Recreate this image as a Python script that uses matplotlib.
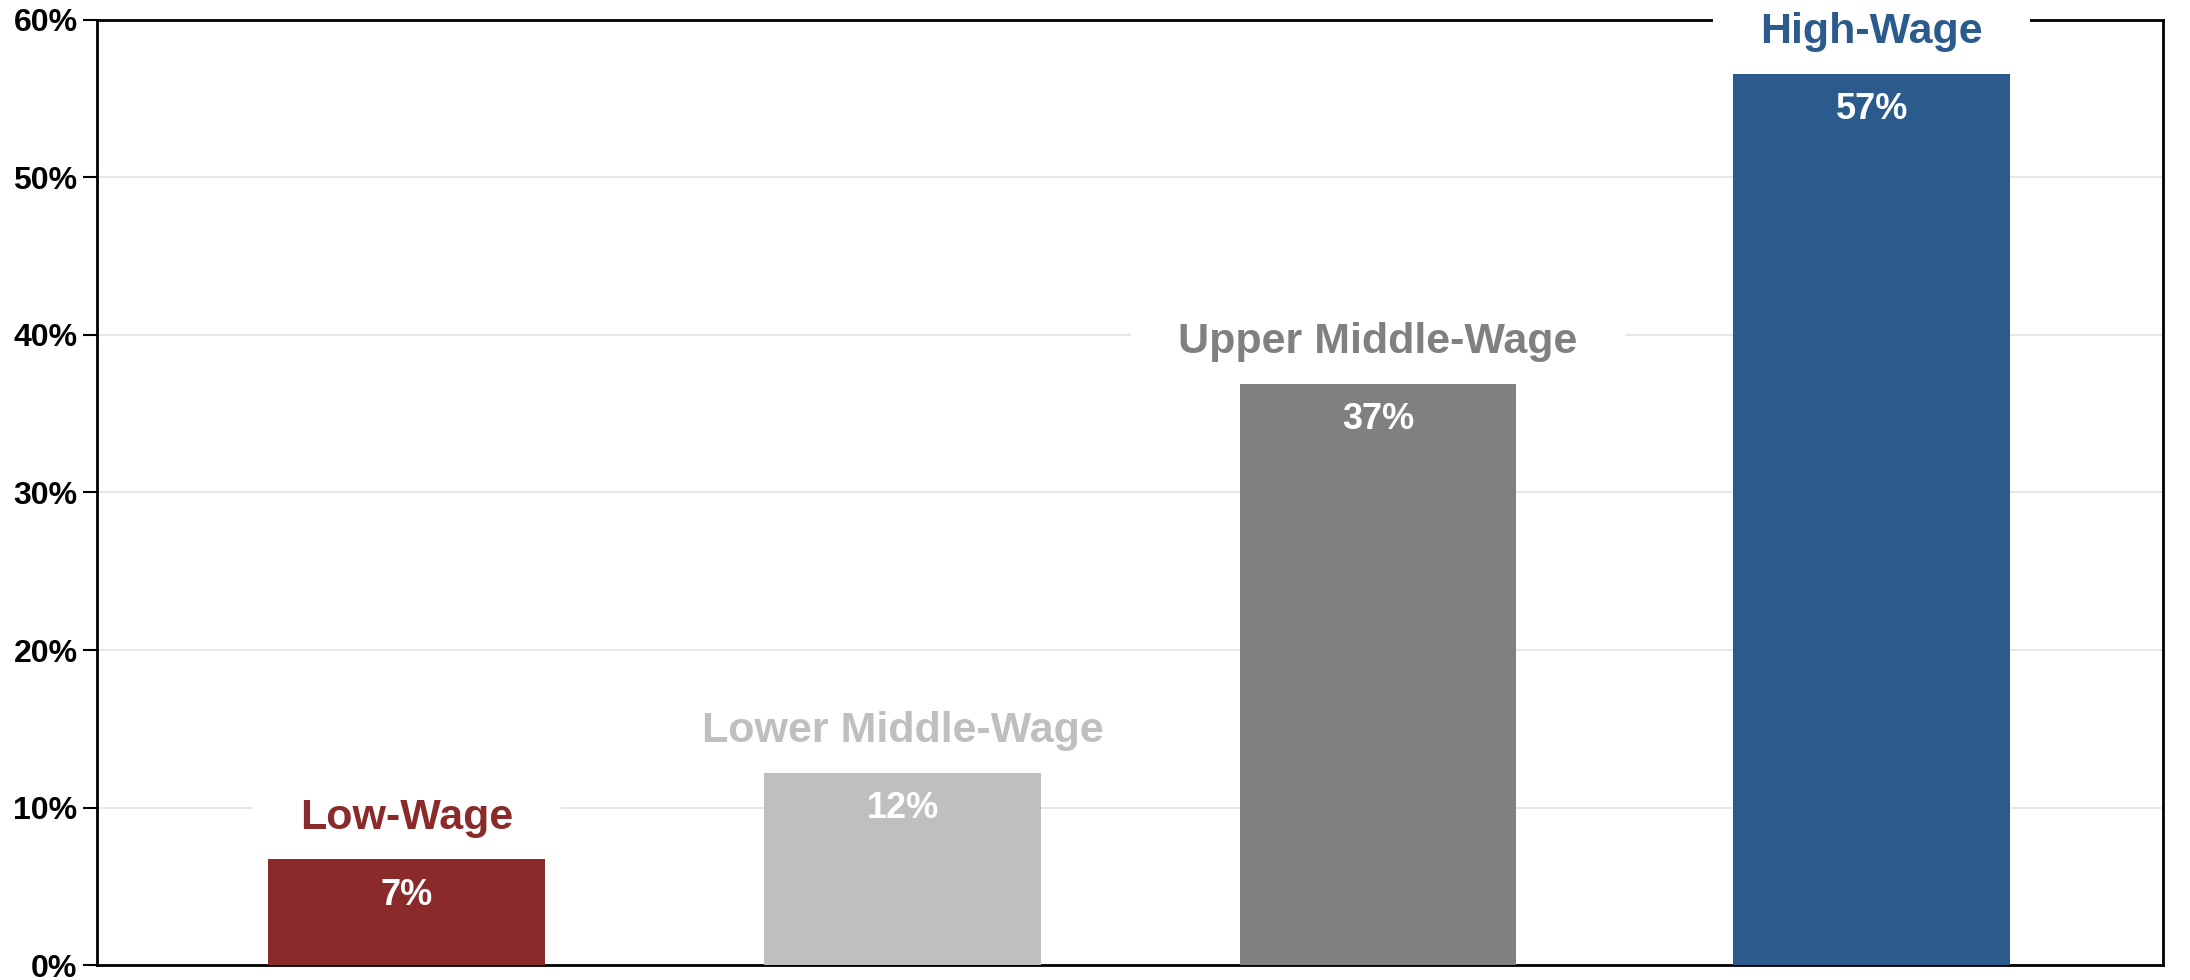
import matplotlib.pyplot as plt
from matplotlib.ticker import FuncFormatter

plt.rcParams['font.family'] = ['Liberation Sans', 'DejaVu Sans']

# Share by wage group
groups = ["Low-Wage", "Lower Middle-Wage", "Upper Middle-Wage", "High-Wage"]
shares = [6.7, 12.2, 36.9, 56.6]
xpos = [0.150, 0.390, 0.620, 0.859]
colors = ["#8B2A2A", "#BFBFBF", "#808080", "#2A5B8C"]
yticks = [0, 10, 20, 30, 40, 50, 60]

fig = plt.figure(figsize=(21.9, 9.8), dpi=100)
ax = fig.add_axes([0.0443, 0.0153, 0.9434, 0.9643])

bars = ax.bar(xpos, shares, width=0.134, color=colors, zorder=5)

ax.set_xlim(0, 1)
ax.set_ylim(0, 60)
ax.set_yticks(yticks)
ax.yaxis.set_major_formatter(FuncFormatter(lambda v, p: f"{v:.0f}%"))
ax.set_xticks([])
ax.grid(axis="y", color="#E3E3E3", linewidth=1.2, zorder=0)
ax.set_axisbelow(True)
ax.tick_params(axis="y", length=10, width=1.5, labelsize=23, pad=4)
for lbl in ax.get_yticklabels():
    lbl.set_fontweight("bold")
for sp in ax.spines.values():
    sp.set_linewidth(2)
    sp.set_color("black")

for x, v, c, g in zip(xpos, shares, colors, groups):
    # group name above the bar, on a white box that hides gridlines
    ax.annotate(g, (x, v), xytext=(0, 30), textcoords="offset points",
                ha="center", va="center", fontsize=31, fontweight="bold",
                color=c, zorder=4, annotation_clip=False,
                bbox=dict(boxstyle="square,pad=1.1", fc="white", ec="none"))
    # value inside the bar
    ax.annotate(f"{v:.0f}%", (x, v), xytext=(0, -26), textcoords="offset points",
                ha="center", va="center", fontsize=26, fontweight="bold",
                color="white", zorder=6)

fig.savefig("out.png", dpi=100)
